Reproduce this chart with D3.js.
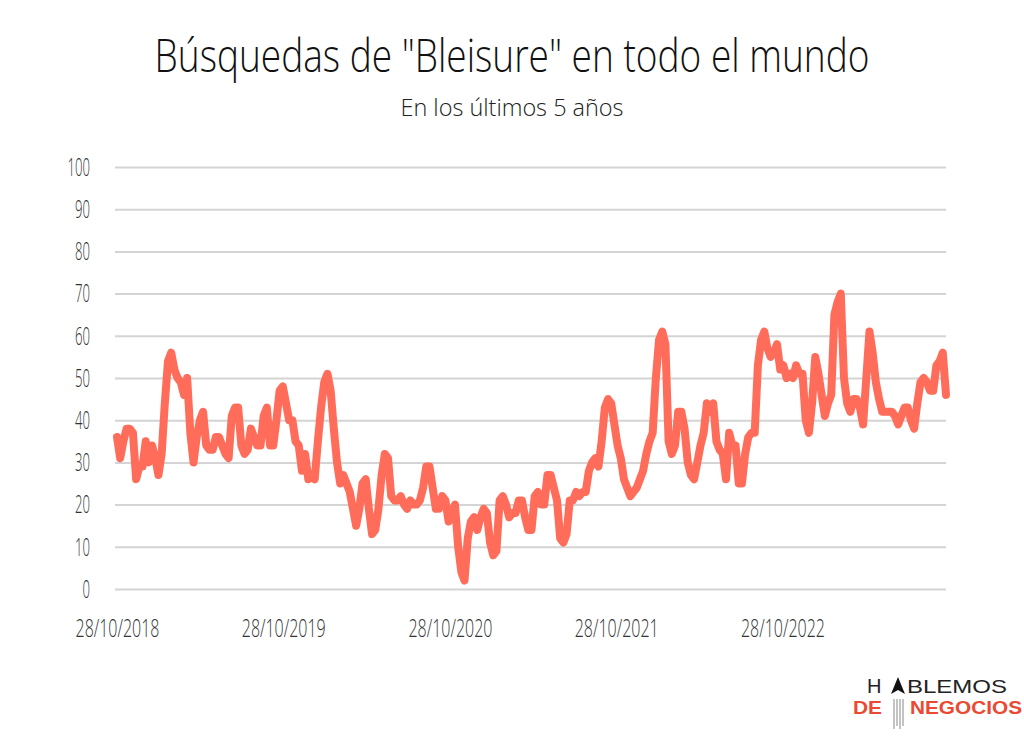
<!DOCTYPE html>
<html><head><meta charset="utf-8">
<script src="https://cdn.jsdelivr.net/npm/d3@7"></script>
<style>body{margin:0;background:#fff}svg{display:block}</style>
</head><body><svg id="c" width="1024" height="737"></svg>
<script>
// ---- data ----
const startDate = "2018-10-28";          // first weekly observation
const values = [
  36,31,35,38,38,37,26,29,29,35, 30,34,31,27,32,44,54,56,52,50,
  49,46,50,37,30,36,40,42,34,33, 33,36,36,34,32,31,41,43,43,34,
  32,33,38,36,34,34,41,43,34,34, 40,47,48,44,40,40,35,34,28,32,
  26,27,26,35,43,49,51,47,38,30, 25,27,25,23,19,15,19,25,26,19,
  13,14,19,27,32,31,22,21,21,22, 20,19,21,20,20,21,24,29,29,24,
  19,19,22,21,16,18,20,10,4,2,   12,16,17,14,17,19,18,11,8,9,
  21,22,20,17,18,18,21,21,17,14, 14,22,23,20,20,27,27,24,21,12,
  11,13,21,21,23,22,23,23,28,30, 31,29,35,43,45,44,39,34,31,26,
  24,22,23,24,26,28,32,35,37,50, 59,61,58,35,32,34,42,42,38,30,
  27,26,30,34,37,44,42,44,35,33, 32,26,37,34,34,25,25,32,36,37,
  37,53,59,61,57,55,56,58,52,53, 50,51,50,53,51,51,40,37,44,55,
  51,46,41,44,46,65,68,70,50,44, 42,45,45,43,39,50,61,56,49,45,
  42,42,42,42,41,39,41,43,43,40, 38,44,49,50,49,47,47,53,54,56,
  46
];
const xTickDates = ["2018-10-28","2019-10-28","2020-10-28","2021-10-28","2022-10-28"];
const yTicks = [0,10,20,30,40,50,60,70,80,90,100];
const titleText = "Búsquedas de \"Bleisure\" en todo el mundo";
const subtitleText = "En los últimos 5 años";

// ---- setup ----
const parse = d3.utcParse("%Y-%m-%d");
const start = parse(startDate);
const data = values.map((v, i) => ({date: d3.utcDay.offset(start, 7 * i), value: v}));
const svg = d3.select("#c");
const pLeft = 115, pRight = 946, pTop = 167, pBottom = 589;

const x = d3.scaleUtc()
  .domain([data[0].date, data[data.length - 1].date])
  .range([117, pRight]);
const y = d3.scaleLinear().domain([0, 100]).range([pBottom, pTop]);

const tickFont = "'Open Sans',sans-serif";

// y axis + gridlines
const ya = svg.append("g").attr("transform", `translate(${pLeft},0)`)
  .call(d3.axisLeft(y).tickValues(yTicks).tickSize(-(pRight - pLeft)).tickPadding(25).tickFormat(d3.format("d")));
ya.select(".domain").remove();
ya.selectAll(".tick line").attr("stroke", "#d4d4d4").attr("stroke-width", 2);
ya.selectAll(".tick text").attr("fill", "#333").style("font-family", tickFont)
  .style("font-weight", 300).style("font-size", "26px")
  .attr("textLength", d => String(d).length * 7.5).attr("lengthAdjust", "spacingAndGlyphs");

// x axis
const xa = svg.append("g").attr("transform", `translate(0,${pBottom})`)
  .call(d3.axisBottom(x).tickValues(xTickDates.map(parse)).tickSize(0).tickPadding(30)
    .tickFormat(d3.utcFormat("%d/%m/%Y")));
xa.select(".domain").remove();
xa.selectAll(".tick text").attr("fill", "#333").style("font-family", tickFont)
  .style("font-weight", 300).style("font-size", "25px")
  .attr("textLength", 84).attr("lengthAdjust", "spacingAndGlyphs");

// line
svg.append("path").datum(data)
  .attr("fill", "none")
  .attr("stroke", "#ff6d5a")
  .attr("stroke-width", 8)
  .attr("stroke-linejoin", "round")
  .attr("stroke-linecap", "round")
  .attr("d", d3.line().x(d => x(d.date)).y(d => y(d.value)));

// titles (condensed horizontally to the reference width)
const title = svg.append("text").attr("text-anchor", "middle")
  .style("font-family", "'Open Sans',sans-serif").style("font-weight", 300)
  .style("font-size", "46px").attr("fill", "#111").text(titleText);
const tw = title.node().getComputedTextLength() || 715;
title.attr("transform", `translate(512,72) scale(${715 / tw},1)`);
svg.append("text").attr("x", 512).attr("y", 116).attr("text-anchor", "middle")
  .attr("textLength", 223).attr("lengthAdjust", "spacingAndGlyphs")
  .style("font-family", "'Open Sans',sans-serif").style("font-weight", 300)
  .style("font-size", "24px").attr("fill", "#222").text(subtitleText);

// logo
const logo = svg.append("g");
const lf = "'Liberation Sans','Arial',sans-serif";
logo.append("text").attr("x", 867).attr("y", 693).style("font-family", lf).style("font-size", "20px")
  .attr("fill", "#222").text("H");
logo.append("text").attr("x", 907).attr("y", 693).attr("textLength", 100).attr("lengthAdjust", "spacingAndGlyphs")
  .style("font-family", lf).style("font-size", "19px").attr("fill", "#222").text("BLEMOS");
logo.append("path").attr("d", "M898,677 L891,694 L898,690 L905,694 Z").attr("fill", "#111");
[894, 897, 900, 903].forEach((lx, i) => {
  logo.append("line").attr("x1", lx).attr("x2", lx).attr("y1", 699).attr("y2", 729 - (i % 2) * 3)
    .attr("stroke", "#888").attr("stroke-width", 1);
});
logo.append("text").attr("x", 853).attr("y", 714).attr("textLength", 29).attr("lengthAdjust", "spacingAndGlyphs")
  .style("font-family", lf).style("font-weight", 700).style("font-size", "18px").attr("fill", "#ea4a33").text("DE");
logo.append("text").attr("x", 910).attr("y", 714).attr("textLength", 112).attr("lengthAdjust", "spacingAndGlyphs")
  .style("font-family", lf).style("font-weight", 700).style("font-size", "18px").attr("fill", "#ea4a33").text("NEGOCIOS");
</script>
</body></html>
